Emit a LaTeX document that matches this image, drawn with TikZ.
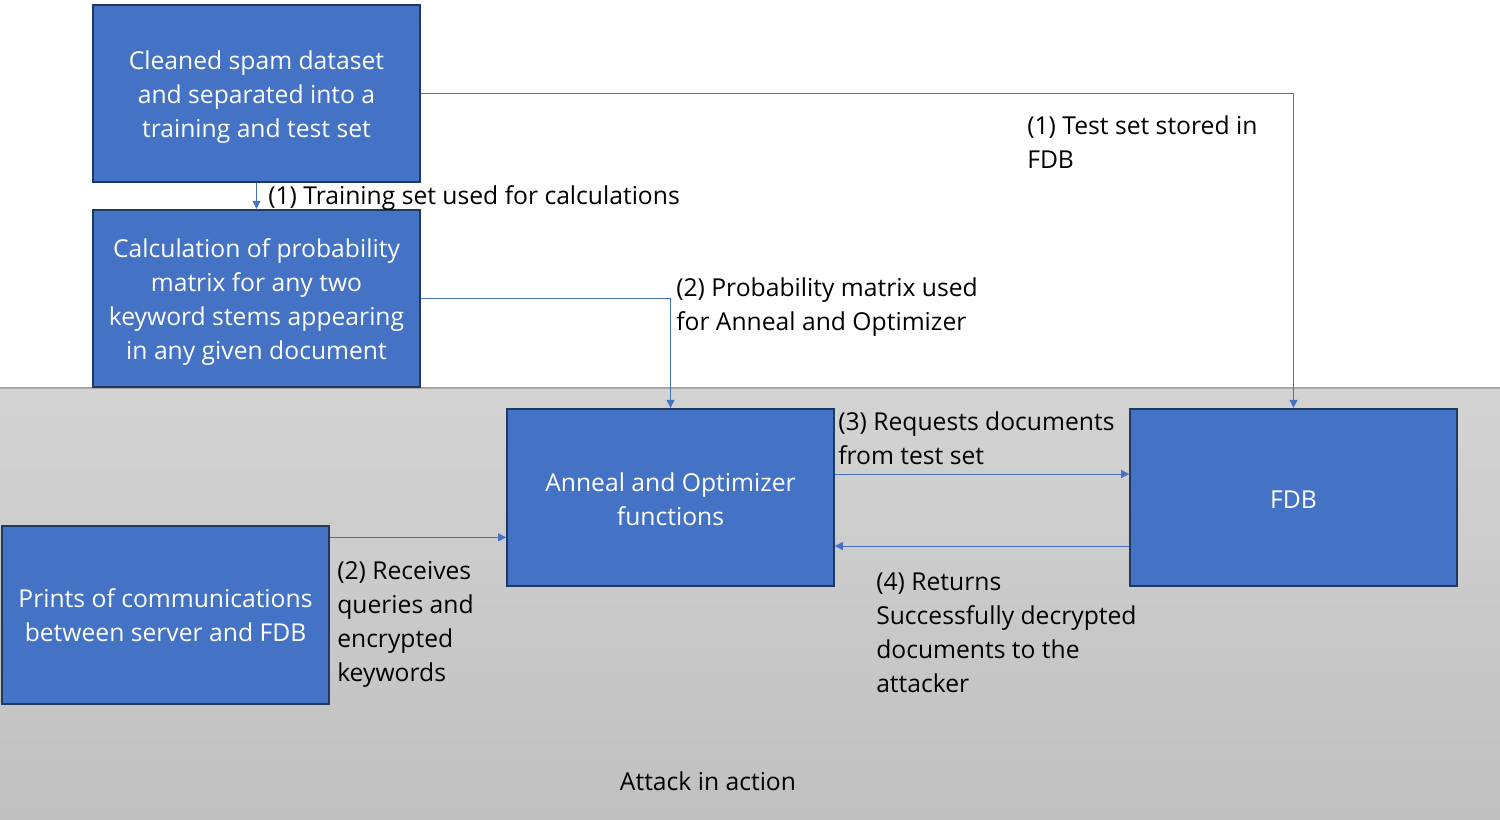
\documentclass[tikz,border=0pt]{standalone}
\usepackage{fontspec}
\setmainfont{Open Sans}
\usepackage{tikz}
\usetikzlibrary{arrows.meta}
\usepackage{xcolor}
\definecolor{boxblue}{HTML}{4472C4}
\definecolor{boxedge}{HTML}{1F3864}
\definecolor{bgtop}{HTML}{D3D3D3}
\definecolor{bgbot}{HTML}{C0C0C0}
\definecolor{bgline}{HTML}{A6A6A6}

\begin{document}
\begin{tikzpicture}[x=0.75pt, y=-0.75pt,
  blk/.style={draw=boxedge, line width=1.5pt, fill=boxblue, text=white, align=center,
    minimum width=245pt, minimum height=133pt, inner sep=0pt, font=\fontsize{18.5}{25.5}\selectfont},
  lbl/.style={anchor=west, align=left, inner sep=0pt, font=\fontsize{18.5}{25.5}\selectfont},
  arr/.style={draw=boxblue, line width=0.75pt, -{Triangle[length=6pt,width=6pt]}}]
\useasboundingbox (0,0) rectangle (1500,819);
\shade[top color=bgtop, bottom color=bgbot] (0,388) rectangle (1500,819);
\draw[bgline, line width=1pt] (0,388) -- (1500,388);

\node[blk] (spam) at (256.5,93.5) {\rule{0pt}{20pt}Cleaned spam dataset\\and separated into a\\training and test set};
\node[blk] (prob) at (256.5,298.5) {\rule{0pt}{19.5pt}Calculation of probability\\matrix for any two\\keyword stems appearing\\in any given document};
\node[blk] (anneal) at (670.5,497.5) {\rule{0pt}{16.5pt}Anneal and Optimizer\\functions};
\node[blk] (fdb) at (1293.5,497.5) {\rule{0pt}{16.5pt}FDB};
\node[blk] (prints) at (165.5,615) {Prints of communications\\between server and FDB};

\draw[arr] (spam.south) -- (prob.north);
\draw[arr] (spam.east) -| (fdb.north);
\draw[arr] (prob.east) -| (anneal.north);
\draw[arr] ([yshift=17.6pt]anneal.east) -- ([yshift=17.6pt]fdb.west);
\draw[arr] ([yshift=-36.4pt]fdb.west) -- ([yshift=-36.4pt]anneal.east);
\coordinate (p1) at ([yshift=-9pt]prints.north east);
\draw[arr] (p1) -- (p1 -| anneal.west);

\node[lbl] (l1) at (268,198) {(1) Training set used for calculations};
\node[lbl] (l2) at (1027,142) {(1) Test set stored in\\FDB};
\node[lbl] (l3) at (676,307) {(2) Probability matrix used\\for Anneal and Optimizer};
\node[lbl] (l4) at (838,438) {(3) Requests documents\\from test set};
\node[lbl] (l5) at (876,633) {(4) Returns\\Successfully decrypted\\documents to the\\attacker};
\node[lbl] (l6) at (337,624) {(2) Receives\\queries and\\encrypted\\keywords};
\node[font=\fontsize{18.5}{25.5}\selectfont, inner sep=0pt] (att) at (708,781) {Attack in action};
\end{tikzpicture}
\end{document}
